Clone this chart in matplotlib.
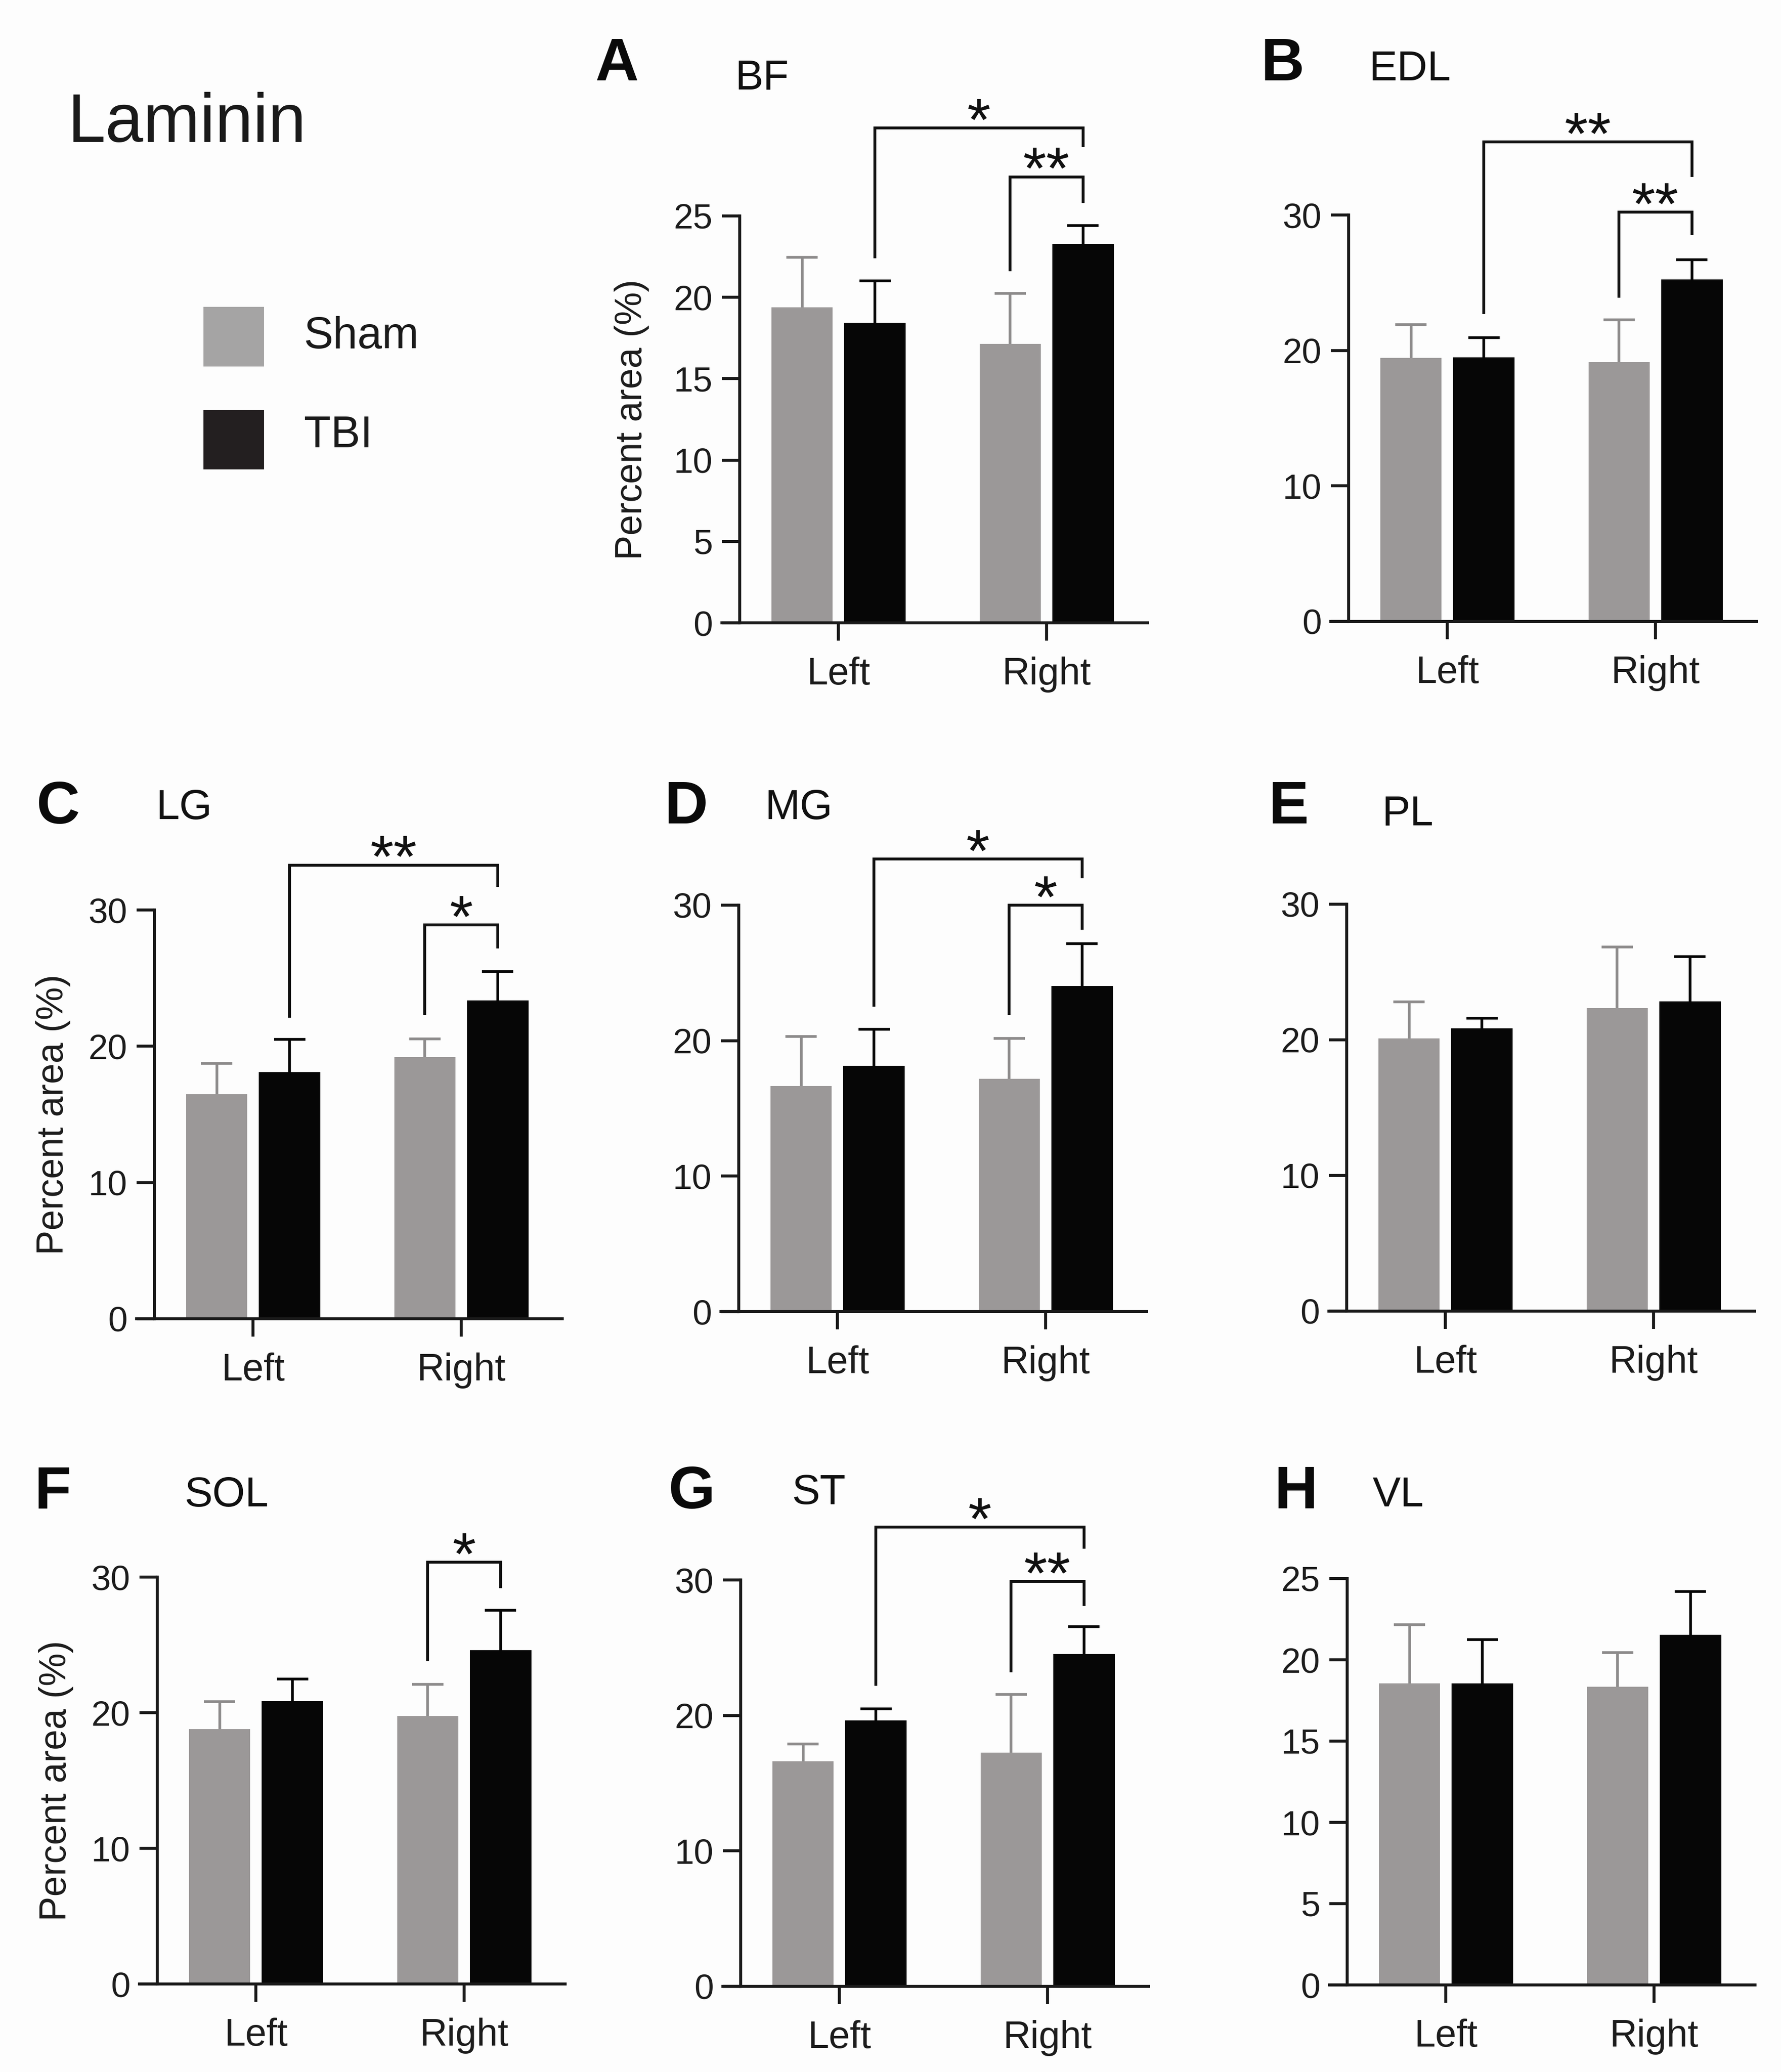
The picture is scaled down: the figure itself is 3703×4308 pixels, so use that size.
import matplotlib.pyplot as plt
import numpy as np
from matplotlib.patches import Rectangle

plt.rcParams["font.family"] = ["Liberation Sans", "DejaVu Sans"]

W_PX, H_PX, DPI = 3703, 4308, 300

GROUPS = ["Left", "Right"]
SERIES = ["Sham", "TBI"]
MUSCLES = ["BF", "EDL", "LG", "MG", "PL", "SOL", "ST", "VL"]
LETTERS = ["A", "B", "C", "D", "E", "F", "G", "H"]

# mean and SEM per muscle, [Left, Right]
SHAM_MEAN = [[19.4, 17.15], [19.45, 19.15], [16.5, 19.2], [16.65, 17.2],
             [20.1, 22.35], [18.8, 19.75], [16.6, 17.25], [18.55, 18.35]]
SHAM_SEM = [[3.05, 3.1], [2.45, 3.1], [2.25, 1.35], [3.65, 2.95],
            [2.7, 4.5], [2.0, 2.35], [1.3, 4.3], [3.6, 2.1]]
TBI_MEAN = [[18.45, 23.3], [19.5, 25.25], [18.1, 23.35], [18.15, 24.05],
            [20.85, 22.85], [20.85, 24.6], [19.65, 24.55], [18.55, 21.55]]
TBI_SEM = [[2.55, 1.1], [1.45, 1.45], [2.4, 2.15], [2.7, 3.1],
           [0.75, 3.3], [1.65, 2.95], [0.85, 2.0], [2.7, 2.65]]
Y_MAX = [25, 30, 30, 30, 30, 30, 30, 25]
Y_STEP = [5, 10, 10, 10, 10, 10, 10, 5]

# significance brackets: (from bar, to bar, top, from-leg end, to-leg end, label)
# a bar is (group index, series index) with series 0 = Sham, 1 = TBI
BRACKETS = [
    [((0, 1), (1, 1), 30.4, 22.5, 29.3, "*"), ((1, 0), (1, 1), 27.4, 21.7, 25.9, "**")],
    [((0, 1), (1, 1), 35.4, 22.8, 32.9, "**"), ((1, 0), (1, 1), 30.2, 24.0, 28.6, "**")],
    [((0, 1), (1, 1), 33.3, 22.2, 31.8, "**"), ((1, 0), (1, 1), 28.9, 22.4, 27.3, "*")],
    [((0, 1), (1, 1), 33.4, 22.6, 32.1, "*"), ((1, 0), (1, 1), 30.0, 22.0, 28.3, "*")],
    [],
    [((1, 0), (1, 1), 31.1, 23.9, 29.3, "*")],
    [((0, 1), (1, 1), 33.9, 22.3, 32.4, "*"), ((1, 0), (1, 1), 29.9, 23.3, 28.2, "**")],
    [],
]

# layout in pixels of the target image: axes left, x-axis y, top tick y
AX_PX = [(1501, 1295, 449), (2767, 1292, 447),
         (284, 2742, 1892), (1499, 2727, 1882), (2763, 2726, 1880),
         (290, 4125, 3279), (1503, 4130, 3285), (2764, 4127, 3282)]
AX_W_PX = 885
LETTER_PX = [(1238, 167), (2622, 167), (76, 1712), (1382, 1712), (2638, 1712),
             (72, 3136), (1390, 3136), (2650, 3136)]
NAME_PX = [(1529, 185), (2847, 167), (325, 1703), (1591, 1703), (2874, 1716),
           (383, 3132), (1646, 3127), (2854, 3132)]
YLABEL_X = {0: -0.212, 2: -0.196, 5: -0.196}

SHAM_COLOR = "#9b9898"
SHAM_ERR = "#8d8b8b"
TBI_COLOR = "#060606"
TEXT = "#1c1c1c"
OFFSET = 0.175
BAR_W = 0.295
CAP = 0.075
LW = 1.5


def fx(px):
    return px / W_PX


def fy(py):
    return 1 - py / H_PX


def bar_x(group, series):
    return group + (2 * series - 1) * OFFSET


def draw_panel(fig, i):
    left, y0, ytop = AX_PX[i]
    ax = fig.add_axes([fx(left), fy(y0), AX_W_PX / W_PX, (y0 - ytop) / H_PX])
    ax.set_facecolor("none")
    x = np.arange(len(GROUPS))
    for s, (means, sems, color, ecolor) in enumerate(
        [(SHAM_MEAN[i], SHAM_SEM[i], SHAM_COLOR, SHAM_ERR),
         (TBI_MEAN[i], TBI_SEM[i], TBI_COLOR, TBI_COLOR)]
    ):
        xs = bar_x(x, s)
        means = np.asarray(means)
        tops = means + np.asarray(sems)
        ax.bar(xs, means, BAR_W, color=color, zorder=2)
        ax.vlines(xs, means, tops, color=ecolor, lw=LW * 0.9, zorder=3)
        ax.hlines(tops, xs - CAP, xs + CAP, color=ecolor, lw=LW * 0.9, zorder=3)

    for (ga, sa), (gb, sb), top, bot_a, bot_b, label in BRACKETS[i]:
        xa, xb = bar_x(ga, sa), bar_x(gb, sb)
        ax.plot([xa, xa, xb, xb], [bot_a, top, top, bot_b], color="#111111",
                lw=LW * 0.95, clip_on=False, solid_joinstyle="miter")
        ax.annotate(label, ((xa + xb) / 2, top), xytext=(0, -6), textcoords="offset points",
                    ha="center", va="baseline", fontsize=30, color="#111111",
                    annotation_clip=False)

    ax.set_xlim(-0.56, 1.485)
    ax.set_ylim(0, Y_MAX[i])
    ax.spines[["top", "right"]].set_visible(False)
    ax.spines["left"].set_position(("data", -0.475))
    for sp in ax.spines.values():
        sp.set_linewidth(LW)
        sp.set_color("#1a1a1a")
    ax.set_xticks(x, GROUPS)
    ax.set_yticks(np.arange(0, Y_MAX[i] + 1, Y_STEP[i]))
    ax.tick_params(axis="both", direction="out", length=8.9, width=LW, color="#1a1a1a",
                   labelcolor=TEXT)
    ax.tick_params(axis="x", labelsize=19, pad=8)
    ax.tick_params(axis="y", labelsize=17.5, pad=4.5)
    if i in YLABEL_X:
        ax.text(YLABEL_X[i], 0.5, "Percent area (%)", transform=ax.transAxes, rotation=90,
                ha="center", va="center", fontsize=18.5, color=TEXT)

    lx, ly = LETTER_PX[i]
    fig.text(fx(lx), fy(ly), LETTERS[i], fontsize=30, fontweight="bold", color="#0a0a0a",
             ha="left", va="baseline")
    nx, ny = NAME_PX[i]
    fig.text(fx(nx), fy(ny), MUSCLES[i], fontsize=21, color="#111111", ha="left", va="baseline")


fig = plt.figure(figsize=(W_PX / DPI, H_PX / DPI), dpi=DPI, facecolor="#fdfdfd")

for i in range(len(MUSCLES)):
    draw_panel(fig, i)

fig.text(fx(140), fy(295), "Laminin", fontsize=34, color="#1a1a1a", ha="left", va="baseline")
for name, color, y_top, y_text in [(SERIES[0], "#a5a4a4", 638, 700), (SERIES[1], "#231f20", 852, 906)]:
    fig.add_artist(Rectangle((fx(423), fy(y_top + 124)), 126 / W_PX, 124 / H_PX,
                             transform=fig.transFigure, facecolor=color, edgecolor="none"))
    fig.text(fx(632), fy(y_text), name, fontsize=22, color="#1a1a1a", ha="left", va="center")

fig.savefig("out.png", dpi=DPI, facecolor=fig.get_facecolor())
